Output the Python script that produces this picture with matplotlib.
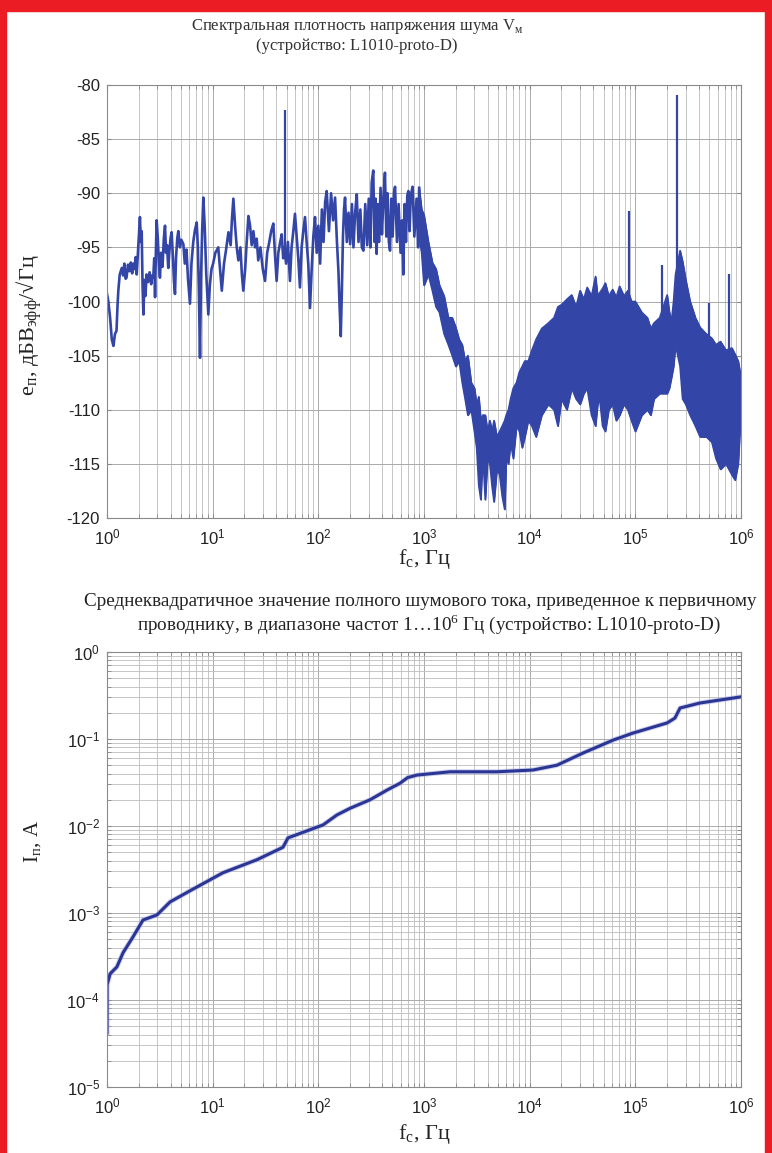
import matplotlib
matplotlib.use('Agg')
import matplotlib.pyplot as plt
from matplotlib.patches import Rectangle
from matplotlib.ticker import FixedLocator, LogLocator, MultipleLocator, NullFormatter

plt.rcParams['font.family'] = ['Liberation Sans', 'DejaVu Sans']
plt.rcParams['axes.unicode_minus'] = False
SERIF = ['Liberation Serif', 'DejaVu Serif']

# --- верхний график: спектральная плотность шума, дБ ---
trace_f = [1.0, 1.03, 1.07, 1.11, 1.15, 1.19, 1.23, 1.26, 1.28, 1.32,
           1.38, 1.42, 1.46, 1.50, 1.53, 1.58, 1.63, 1.68, 1.73, 1.77,
           1.82, 1.87, 1.91, 1.96, 2.02, 2.05, 2.09, 2.13, 2.17, 2.21,
           2.26, 2.31, 2.37, 2.45, 2.53, 2.62, 2.68, 2.74, 2.80, 2.85,
           2.90, 2.95, 3.02, 3.10, 3.17, 3.25, 3.35, 3.45, 3.54, 3.62,
           3.70, 3.80, 3.90, 4.00, 4.09, 4.20, 4.30, 4.40, 4.50, 4.62,
           4.73, 4.90, 5.05, 5.28, 5.45, 5.65, 5.85, 6.10, 6.30, 6.55,
           6.80, 7.06, 7.25, 7.40, 7.59, 7.75, 7.95, 8.16, 8.40, 8.70,
           9.10, 9.40, 9.75, 10.1, 10.6, 11.3, 11.8, 12.2, 12.8, 13.4,
           14.1, 14.8, 15.2, 15.7, 16.3, 16.9, 17.5, 18.3, 18.9, 19.5,
           20.3, 21.0, 21.8, 22.6, 23.4, 24.3, 25.2, 26.1, 27.0, 28.3,
           29.8, 31.3, 32.8, 34.2, 35.8, 37.5, 38.8, 40.3, 41.8, 43.4,
           45.0, 46.5, 47.5, 49.5, 51.5, 53.9, 55.8, 58.0, 60.1, 62.3,
           64.6, 67.0, 69.5, 72.0, 74.8, 77.5, 80.3, 83.4, 86.5, 89.7,
           93.0, 96.5, 100, 104, 108, 112, 116, 120, 126, 132,
           138, 144, 150, 155, 159, 163, 167, 171, 175, 179,
           186, 193, 200, 208, 215, 223, 231, 240, 250, 258,
           267, 278, 290, 300, 311, 320, 331, 340, 348, 356,
           365, 375, 388, 400, 413, 427, 440, 452, 465, 477,
           490, 505, 520, 532, 555, 575, 600, 620, 637, 655,
           675, 695, 711, 730, 750, 780, 810, 850, 880, 900]
trace_v = [-99.3, -100.0, -101.5, -103.5, -104.1, -103.0, -102.7, -100.2, -99.0, -97.5,
           -96.9, -97.6, -96.5, -97.9, -97.8, -96.6, -97.2, -96.4, -97.4, -96.5,
           -97.0, -95.9, -97.5, -95.5, -93.0, -92.2, -94.5, -93.5, -98.5, -101.2,
           -98.0, -99.5, -97.5, -98.2, -97.3, -98.4, -97.6, -97.8, -96.0, -99.6,
           -95.5, -92.5, -94.0, -96.5, -97.8, -95.5, -96.8, -94.2, -93.0, -95.5,
           -94.8, -96.9, -95.3, -94.1, -93.6, -95.8, -98.1, -99.3, -96.0, -94.2,
           -93.5, -95.0, -94.3, -94.7, -96.5, -95.2, -98.0, -100.2, -96.5, -94.5,
           -93.4, -92.7, -95.0, -99.0, -105.2, -98.0, -93.5, -90.4, -93.0, -97.5,
           -101.2, -98.5, -97.0, -96.5, -95.5, -95.0, -97.2, -99.0, -96.5, -95.2,
           -93.6, -94.8, -92.5, -90.5, -93.0, -95.0, -96.2, -95.0, -97.5, -99.0,
           -97.0, -94.5, -92.1, -93.0, -94.8, -93.5, -95.0, -94.2, -96.2, -95.0,
           -97.0, -98.1, -95.5, -94.6, -93.5, -92.8, -95.5, -98.1, -95.5, -94.6,
           -93.8, -96.0, -95.0, -96.5, -94.5, -98.1, -95.0, -93.5, -91.9, -94.0,
           -96.0, -98.7, -95.0, -93.5, -92.2, -94.5, -96.5, -100.6, -97.0, -94.0,
           -92.2, -95.5, -93.0, -96.5, -91.5, -94.5, -90.8, -89.8, -93.5, -90.0,
           -92.5, -90.4, -94.5, -97.2, -100.5, -103.2, -99.0, -94.0, -91.5, -90.4,
           -94.5, -91.8, -94.7, -91.0, -95.0, -91.8, -90.1, -94.5, -91.5, -95.0,
           -95.3, -91.0, -94.8, -90.5, -95.0, -89.0, -87.9, -94.5, -90.5, -95.6,
           -91.0, -94.5, -89.5, -93.8, -90.5, -88.1, -94.0, -90.0, -94.5, -95.3,
           -90.5, -94.0, -90.0, -89.4, -94.5, -91.0, -95.5, -92.5, -97.5, -91.0,
           -94.5, -90.2, -89.8, -93.5, -90.2, -89.4, -94.0, -90.5, -95.0, -89.5]

# плотная полоса шума на высоких частотах: верхняя и нижняя огибающие
band_f = [900, 950, 1000, 1100, 1200, 1300, 1400, 1550, 1700, 1850,
          2000, 2150, 2300, 2450, 2600, 2800, 3000, 3150, 3300, 3450,
          3600, 3800, 4000, 4200, 4400, 4600, 4900, 5200, 5500, 5800,
          6000, 6300, 6600, 7000, 7500, 8000, 8500, 9000, 9700, 10500,
          11500, 13000, 15000, 17000, 18500, 20000, 22500, 25000, 27500, 30000,
          32500, 35000, 38500, 42000, 44000, 46000, 49000, 52000, 56000, 61000,
          66000, 71000, 78000, 85000, 92000, 100000, 115000, 130000, 140000, 150000,
          170000, 200000, 210000, 220000, 230000, 240000, 265000, 280000, 300000, 330000,
          370000, 410000, 470000, 530000, 580000, 640000, 720000, 820000, 880000, 940000, 1000000]
band_hi = [-89.5, -91.5, -92, -94.5, -96.4, -97, -98.5, -99.5, -101.5, -101.5,
           -102.4, -103.5, -104, -105.5, -105, -107.5, -108, -109.5, -108.8, -111,
           -110.5, -110.5, -112, -111, -112, -111, -112.5, -112, -111.5, -111,
           -110.5, -110, -109, -108, -107.5, -106.5, -106, -105.5, -105.5, -104.5,
           -103.5, -102.5, -102, -101.5, -100.5, -100.3, -99.8, -99.4, -100.5, -99,
           -99.8, -98.7, -99.5, -97.7, -99.5, -99.2, -98.8, -98.3, -99.5, -98.9,
           -99.6, -98.6, -99.5, -99, -100, -100, -101, -101.5, -102.5, -102,
           -101.5, -99.4, -101, -101.8, -100, -97.5, -95.3, -96.3, -98, -100,
           -101.5, -102.4, -103, -103.4, -104, -103.7, -104.5, -104.3, -104.9, -105.5, -107]
band_lo = [-94, -95.5, -98.5, -97.5, -99, -100.5, -101, -103, -104, -105,
           -106, -105.5, -107.5, -109, -110.5, -110, -112, -113.5, -117, -118.3,
           -114, -118.3, -114.5, -115, -117, -118.5, -115.5, -116, -118, -119.2,
           -114.5, -115, -113, -114.5, -111.5, -112, -113.5, -112.5, -111, -111.5,
           -112.5, -110.5, -109.5, -110, -111.5, -109, -110, -108, -109, -109.5,
           -108.5, -108, -110.5, -111.5, -109.5, -109, -111.5, -112, -110, -109.5,
           -111, -110.5, -109.5, -110, -111, -112, -110.5, -110, -110.5, -109,
           -108.5, -108.5, -108, -107, -106, -104, -106, -109, -109.5, -110.5,
           -111.5, -112.5, -112.5, -113, -114.5, -115.5, -115, -116, -116.5, -115, -110]

# узкие пики (сеть 50 Гц и т.п.)
spike_f = [48.4, 87000, 178000, 250000, 500000, 770000]
spike_top = [-82.3, -91.6, -96.6, -80.9, -100.1, -97.5]
spike_base = [-96, -100, -101, -97, -104, -105]

# --- нижний график: СКЗ шумового тока, А ---
irms_f = [1.0, 1.003, 1.07, 1.24, 1.42, 1.76, 2.19, 2.97, 3.95, 6.1,
          12.5, 26.3, 46.3, 51.6, 111, 150, 200, 308, 450, 593,
          700, 858, 1762, 4910, 10740, 18150, 32000, 61500, 95000, 200000,
          237000, 265000, 407000, 980000]
irms_a = [4.2e-5, 1.5e-4, 2.0e-4, 2.4e-4, 3.5e-4, 5.3e-4, 8.3e-4, 9.5e-4, 1.34e-3, 1.8e-3,
          2.9e-3, 4.1e-3, 5.7e-3, 7.3e-3, 1.03e-2, 1.34e-2, 1.6e-2, 2.0e-2, 2.6e-2, 3.1e-2,
          3.6e-2, 3.85e-2, 4.2e-2, 4.2e-2, 4.4e-2, 5.0e-2, 6.9e-2, 9.7e-2, 0.117, 0.153,
          0.174, 0.227, 0.259, 0.304]

decades = [1, 10, 100, 1e3, 1e4, 1e5, 1e6]

W, H = 772, 1153
fig = plt.figure(figsize=(W / 100, H / 100), dpi=100)
fig.patch.set_facecolor('white')

# красная рамка
red = '#ec1c24'
for r in [(0, 1 - 11 / H, 1, 11 / H), (0, 0, 6 / W, 1), (765 / W, 0, 7 / W, 1)]:
    fig.patches.append(Rectangle(r[:2], r[2], r[3], transform=fig.transFigure,
                                 color=red, zorder=10))

blue = '#3346a8'
navy = '#2b3594'


def style_axes(ax):
    ax.set_xscale('log')
    ax.set_xlim(1, 1e6)
    ax.xaxis.set_major_locator(FixedLocator(decades))
    ax.xaxis.set_minor_locator(LogLocator(base=10, subs=range(2, 10), numticks=100))
    ax.xaxis.set_minor_formatter(NullFormatter())
    ax.grid(True, which='major', color='#aaaaaa', lw=0.7)
    ax.grid(True, which='minor', color='#bdbdbd', lw=0.6)
    ax.tick_params(which='both', direction='in', length=3, color='#888888',
                   labelsize=12, labelcolor='#222222', top=True, right=True)
    ax.tick_params(axis='x', which='major', pad=7)
    ax.tick_params(axis='y', which='major', pad=5)
    for s in ax.spines.values():
        s.set_color('#8a8a8a')
        s.set_linewidth(0.8)
    ax.set_axisbelow(True)


# верхний
ax1 = fig.add_axes([107 / W, 1 - 518 / H, 634 / W, 433 / H])
style_axes(ax1)
ax1.fill_between(band_f, band_lo, band_hi, color=blue, lw=0.8)
ax1.plot(band_f, band_hi, color=blue, lw=1.2)
ax1.plot(band_f, band_lo, color=blue, lw=1.2)
ax1.plot(trace_f, trace_v, color=blue, lw=1.9)
ax1.vlines(spike_f, spike_base, spike_top, color=blue, lw=1.6)
ax1.set_ylim(-120, -80)
ax1.yaxis.set_major_locator(MultipleLocator(5))
ax1.grid(False, which='minor', axis='y')

fig.text(357 / W, 1 - 27 / H, 'Спектральная плотность напряжения шума V$_\\mathregular{м}$',
         ha='center', va='center', fontsize=12, family=SERIF, color='#333333')
fig.text(357 / W, 1 - 46 / H, '(устройство: L1010-proto-D)',
         ha='center', va='center', fontsize=12, family=SERIF, color='#333333')
fig.text(30 / W, 1 - 325 / H, 'e$_\\mathregular{п}$, дБВ$_\\mathregular{эфф}$/√Гц',
         ha='center', va='center', rotation=90, fontsize=16, family=SERIF, color='#222222')
fig.text(424 / W, 1 - 559 / H, 'f$_\\mathregular{c}$, Гц',
         ha='center', va='center', fontsize=16, family=SERIF, color='#222222')

# нижний
ax2 = fig.add_axes([107 / W, 1 - 1087 / H, 634 / W, 435 / H])
style_axes(ax2)
ax2.set_yscale('log')
ax2.set_ylim(1e-5, 1)
ax2.yaxis.set_major_locator(FixedLocator([1e-5, 1e-4, 1e-3, 1e-2, 1e-1, 1]))
ax2.yaxis.set_minor_locator(LogLocator(base=10, subs=range(2, 10), numticks=100))
ax2.yaxis.set_minor_formatter(NullFormatter())
ax2.plot(irms_f, irms_a, color='#aab0e0', lw=3.6, alpha=0.6)
ax2.plot(irms_f, irms_a, color=navy, lw=2.2)

fig.text(420 / W, 1 - 601 / H,
         'Среднеквадратичное значение полного шумового тока, приведенное к первичному',
         ha='center', va='center', fontsize=13.8, family=SERIF, color='#222222')
fig.text(429 / W, 1 - 624 / H,
         'проводнику, в диапазоне частот 1…10$^\\mathregular{6}$ Гц (устройство: L1010-proto-D)',
         ha='center', va='center', fontsize=13.8, family=SERIF, color='#222222')
fig.text(33 / W, 1 - 842 / H, 'I$_\\mathregular{п}$, A',
         ha='center', va='center', rotation=90, fontsize=15, family=SERIF, color='#222222')
fig.text(424 / W, 1 - 1134 / H, 'f$_\\mathregular{c}$, Гц',
         ha='center', va='center', fontsize=16, family=SERIF, color='#222222')

fig.savefig('out.png', dpi=100)
